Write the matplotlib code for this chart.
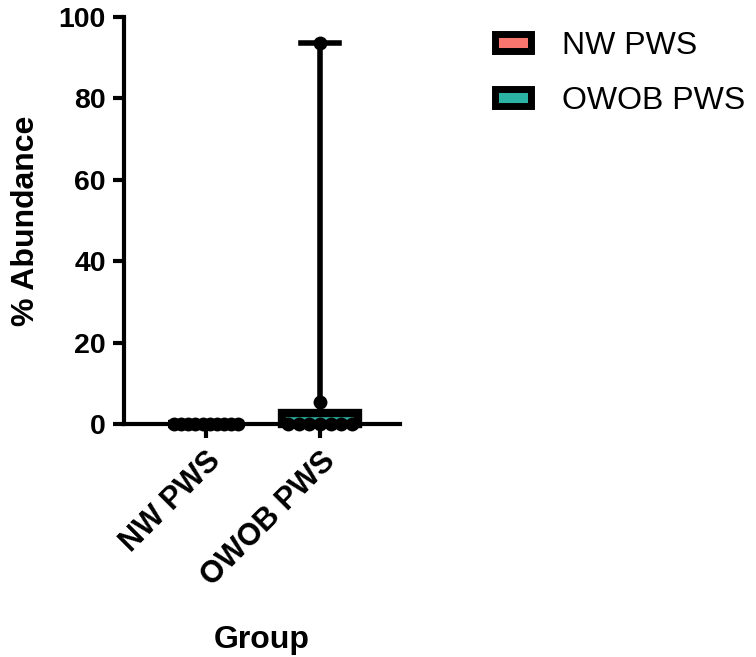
import numpy as np
import matplotlib
matplotlib.use("Agg")
import matplotlib.pyplot as plt
from matplotlib.patches import Patch

plt.rcParams['font.family'] = ['Liberation Sans', 'DejaVu Sans']

# data (% abundance per sample)
groups = ['NW PWS', 'OWOB PWS']
nw_pws = [0, 0, 0, 0, 0, 0, 0, 0, 0, 0]
owob_pws = [0, 0, 0, 0, 0, 0, 0, 5.4, 93.7]
colors = ['#F8766D', '#2BB3A3']

fig = plt.figure(figsize=(7.56, 6.57), dpi=100)
ax = fig.add_axes([0.164, 0.3546, 0.365, 0.6195])

data = [nw_pws, owob_pws]
positions = [1, 2]

# box stats like GraphPad: quartiles with the (n+1)p rule, whiskers min to max
stats = []
for name, vals in zip(groups, data):
    vals = np.array(vals, dtype=float)
    q1, med, q3 = np.percentile(vals, [25, 50, 75], method='weibull')
    stats.append(dict(label=name, med=med, q1=q1, q3=q3,
                      whislo=vals.min(), whishi=vals.max(), fliers=[]))

bp = ax.bxp(stats, positions=positions, widths=0.67, patch_artist=True,
            showfliers=False,
            boxprops=dict(linewidth=6, edgecolor='black'),
            whiskerprops=dict(linewidth=4, color='black'),
            capprops=dict(linewidth=4, color='black'),
            medianprops=dict(linewidth=4, color='black'))
for patch, c in zip(bp['boxes'], colors):
    patch.set_facecolor(c)
for artist in bp['boxes'] + bp['whiskers'] + bp['caps'] + bp['medians']:
    artist.set_clip_on(False)

# points: zeros spread out horizontally, others centred
for pos, vals in zip(positions, data):
    vals = np.array(vals)
    zeros = vals[vals == 0]
    rest = vals[vals != 0]
    xs = pos + np.linspace(-0.28, 0.28, len(zeros))
    ax.scatter(xs, zeros, s=100, color='black', zorder=5, clip_on=False, linewidths=0)
    ax.scatter([pos] * len(rest), rest, s=100, color='black', zorder=5, clip_on=False, linewidths=0)

ax.set_xlim(0.28, 2.70)
ax.set_ylim(0, 100)
ax.set_yticks([0, 20, 40, 60, 80, 100])
ax.set_xticks(positions)
ax.set_xticklabels(groups, rotation=45, ha='right', rotation_mode='anchor',
                   fontsize=22, fontweight='bold')
for lbl in ax.get_yticklabels():
    lbl.set_fontsize(20.5)
    lbl.set_fontweight('bold')

for s in ['top', 'right']:
    ax.spines[s].set_visible(False)
for s in ['left', 'bottom']:
    ax.spines[s].set_linewidth(3)
ax.tick_params(axis='y', length=8, width=3, pad=5)
ax.tick_params(axis='x', length=10, width=3, pad=6)

ax.set_ylabel('% Abundance', fontsize=23, fontweight='bold', labelpad=13)
ax.set_xlabel('Group', fontsize=23, fontweight='bold', labelpad=24)

handles = [Patch(facecolor=c, edgecolor='black', linewidth=5) for c in colors]
fig.legend(handles, groups, loc='upper left', bbox_to_anchor=(0.655, 0.953),
           frameon=False, fontsize=23, handlelength=1.12, handleheight=0.47,
           labelspacing=0.78, handletextpad=0.98, borderpad=0, borderaxespad=0)

fig.savefig('out.png', dpi=100)
